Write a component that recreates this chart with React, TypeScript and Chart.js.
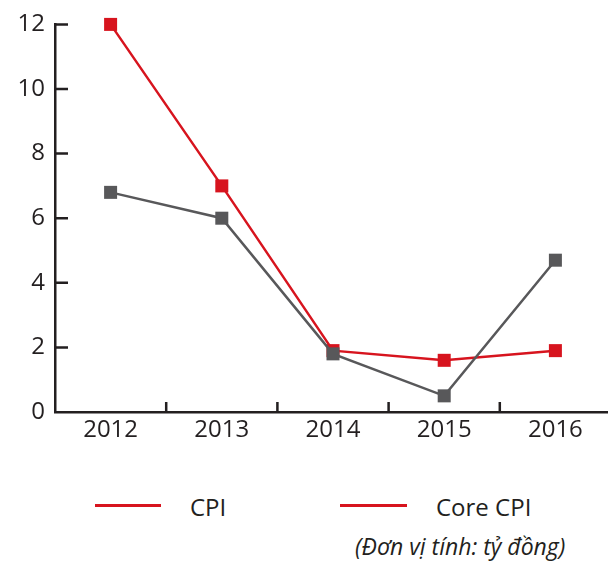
import React, { useEffect, useRef } from "react";
import { Chart, registerables } from "chart.js";

Chart.register(...registerables);

const years = ["2012", "2013", "2014", "2015", "2016"];
const cpiValues = [12, 7.0, 1.9, 1.6, 1.9];
const coreCpiValues = [6.8, 6.0, 1.8, 0.5, 4.7];
const yTickValues = [0, 2, 4, 6, 8, 10, 12];
const seriesNames = ["CPI", "Core CPI"];
const unitNote = "(Đơn vị tính: tỷ đồng)";

const RED = "#d7141e";
const GRAY = "#58585a";
const INK = "#231f20";
const FONT = "'Open Sans', sans-serif";

const innerTicks = {
  id: "innerTicks",
  beforeDatasetsDraw(chart: any) {
    const { ctx, chartArea, scales } = chart;
    const xs = scales.x;
    const ys = scales.y;
    ctx.save();
    ctx.strokeStyle = INK;
    ctx.lineWidth = 2.5;
    ctx.beginPath();
    for (const v of yTickValues) {
      if (v === 0) continue;
      const py = ys.getPixelForValue(v);
      ctx.moveTo(chartArea.left, py);
      ctx.lineTo(chartArea.left + 13, py);
    }
    for (let i = 1; i < years.length; i++) {
      const px = (xs.getPixelForValue(i - 1) + xs.getPixelForValue(i)) / 2;
      ctx.moveTo(px, chartArea.bottom);
      ctx.lineTo(px, chartArea.bottom - 10);
    }
    ctx.stroke();
    ctx.restore();
  },
};

export default function App() {
  const ref = useRef<HTMLCanvasElement | null>(null);

  useEffect(() => {
    if (!ref.current) return;
    const chart = new Chart(ref.current, {
      type: "line",
      data: {
        labels: years,
        datasets: [
          {
            label: seriesNames[0],
            data: cpiValues,
            borderColor: RED,
            backgroundColor: RED,
            borderWidth: 2.5,
            pointStyle: "rect",
            pointRadius: 9.2,
            pointHoverRadius: 9.2,
            pointBorderWidth: 0,
            pointBackgroundColor: RED,
            tension: 0,
            order: 1,
            clip: false as any,
          },
          {
            label: seriesNames[1],
            data: coreCpiValues,
            borderColor: GRAY,
            backgroundColor: GRAY,
            borderWidth: 2.5,
            pointStyle: "rect",
            pointRadius: 9.2,
            pointHoverRadius: 9.2,
            pointBorderWidth: 0,
            pointBackgroundColor: GRAY,
            tension: 0,
            order: 0,
            clip: false as any,
          },
        ],
      },
      options: {
        responsive: false,
        animation: false,
        layout: { autoPadding: false, padding: { top: 22, right: 1, left: 0, bottom: 0 } },
        plugins: {
          legend: { display: false },
          tooltip: { enabled: false },
        },
        scales: {
          x: {
            offset: true,
            grid: { display: false, drawTicks: false, tickLength: 0 },
            border: { display: true, color: INK, width: 2.5 },
            ticks: {
              color: INK,
              font: { family: FONT, size: 24 },
              padding: 4,
              maxRotation: 0,
            },
            afterFit(scale: any) {
              scale.height = 48;
            },
          },
          y: {
            min: 0,
            max: 12,
            grid: { display: false, drawTicks: false, tickLength: 0 },
            border: { display: true, color: INK, width: 2.5 },
            ticks: {
              stepSize: 2,
              color: INK,
              font: { family: FONT, size: 24 },
              padding: 10,
            },
            afterFit(scale: any) {
              scale.width = 55;
            },
          },
        },
      } as any,
      plugins: [innerTicks],
    });
    return () => chart.destroy();
  }, []);

  const textStyle: React.CSSProperties = {
    position: "absolute",
    fontFamily: FONT,
    fontSize: 24,
    lineHeight: "24px",
    color: INK,
    whiteSpace: "nowrap",
  };

  return (
    <div
      style={{
        position: "absolute",
        left: 0,
        top: 0,
        width: 608,
        height: 566,
        overflow: "hidden",
        background: "#fff",
      }}
    >
      <canvas ref={ref} width={612} height={460} style={{ position: "absolute", left: 0, top: 0 }} />
      <div style={{ position: "absolute", left: 95, top: 504, width: 66, height: 3, background: RED }} />
      <div style={{ ...textStyle, left: 190, top: 495 }}>{seriesNames[0]}</div>
      <div style={{ position: "absolute", left: 340, top: 504, width: 67, height: 3, background: RED }} />
      <div style={{ ...textStyle, left: 436, top: 495 }}>{seriesNames[1]}</div>
      <div
        style={{
          ...textStyle,
          fontSize: 23,
          lineHeight: "23px",
          fontStyle: "italic",
          left: 355,
          top: 535,
        }}
      >
        {unitNote}
      </div>
    </div>
  );
}
